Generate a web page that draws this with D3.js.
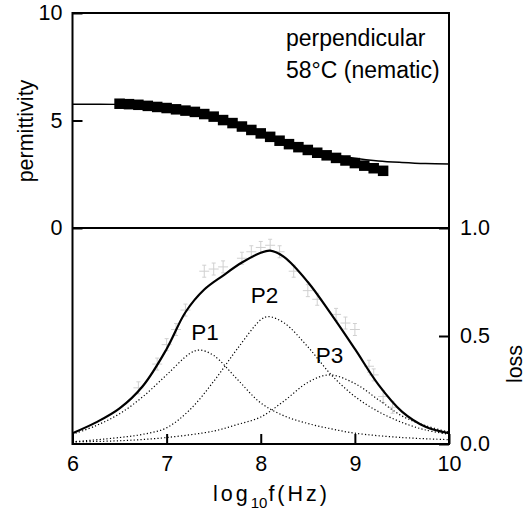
<!DOCTYPE html>
<html>
<head>
<meta charset="utf-8">
<script src="https://cdn.jsdelivr.net/npm/d3@7"></script>
<style>
  body { margin: 0; background: #fff; }
  text { font-family: "Liberation Sans", Arial, sans-serif; fill: #000; }
</style>
</head>
<body>
<div id="chart"></div>
<script>
// permittivity data (squares) and fit
const permX = [6.5, 6.6, 6.7, 6.8, 6.9, 7.0, 7.1, 7.2, 7.3, 7.4, 7.5, 7.6, 7.7, 7.8, 7.9,
               8.0, 8.1, 8.2, 8.3, 8.4, 8.5, 8.6, 8.7, 8.8, 8.9, 9.0, 9.1, 9.2, 9.3];
const permY = [5.78, 5.76, 5.73, 5.68, 5.63, 5.58, 5.52, 5.46, 5.40, 5.30, 5.18, 5.02, 4.88, 4.72, 4.56,
               4.40, 4.24, 4.06, 3.90, 3.76, 3.63, 3.50, 3.38, 3.26, 3.14, 3.02, 2.90, 2.78, 2.66];
const permFitX = [6.0, 6.25, 6.5, 6.75, 7.0, 7.25, 7.5, 7.75, 8.0, 8.25, 8.5, 8.75, 9.0, 9.25, 9.5, 9.75, 10.0];
const permFitY = [5.76, 5.76, 5.75, 5.71, 5.63, 5.48, 5.26, 4.88, 4.45, 4.02, 3.68, 3.42, 3.24, 3.12, 3.05, 3.00, 2.98];

// loss: total fit and components
const fitX = [6.0, 6.25, 6.5, 6.75, 7.0, 7.2, 7.4, 7.6, 7.8, 8.0, 8.1, 8.25, 8.5, 8.75, 9.0, 9.25, 9.5, 9.75, 10.0];
const fitY = [0.05, 0.10, 0.165, 0.27, 0.44, 0.61, 0.715, 0.78, 0.84, 0.885, 0.895, 0.865, 0.75, 0.60, 0.44, 0.275, 0.15, 0.08, 0.05];

const p1X = [6.0, 6.25, 6.5, 6.75, 7.0, 7.25, 7.35, 7.5, 7.75, 8.0, 8.25, 8.5, 8.75, 9.0, 9.5, 10.0];
const p1Y = [0.045, 0.085, 0.14, 0.22, 0.32, 0.42, 0.435, 0.41, 0.30, 0.19, 0.13, 0.095, 0.07, 0.05, 0.03, 0.02];

const p2X = [6.0, 6.5, 6.75, 7.0, 7.25, 7.5, 7.75, 8.0, 8.08, 8.25, 8.5, 8.75, 9.0, 9.25, 9.5, 9.75, 10.0];
const p2Y = [0.01, 0.03, 0.045, 0.075, 0.16, 0.29, 0.44, 0.575, 0.59, 0.56, 0.45, 0.32, 0.22, 0.15, 0.10, 0.065, 0.045];

const p3X = [6.0, 6.5, 7.0, 7.5, 7.75, 8.0, 8.25, 8.5, 8.73, 9.0, 9.25, 9.5, 9.75, 10.0];
const p3Y = [0.01, 0.015, 0.03, 0.06, 0.09, 0.125, 0.20, 0.285, 0.32, 0.28, 0.205, 0.13, 0.085, 0.055];

// faint measured loss points
const lossX = [6.7, 6.9, 7.0, 7.1, 7.2, 7.4, 7.5, 7.6, 7.8, 7.9, 8.0, 8.1, 8.2, 8.35, 8.5, 8.6, 8.8, 8.9, 9.0, 9.15, 9.2, 9.3, 9.4];
const lossY = [0.26, 0.37, 0.46, 0.53, 0.62, 0.80, 0.81, 0.82, 0.86, 0.89, 0.91, 0.92, 0.89, 0.80, 0.71, 0.67, 0.60, 0.56, 0.53, 0.36, 0.32, 0.22, 0.17];

const xTicks = [6, 7, 8, 9, 10];
const permTicks = [0, 5, 10];
const lossTicks = [0, 0.5, 1.0];

const W = 526, H = 512;
const mLeft = 72.5, mRight = 449, mTop = 13, mMid = 228, mBottom = 444;

const svg = d3.select("#chart").append("svg")
    .attr("width", W).attr("height", H);

const x = d3.scaleLinear().domain([6, 10]).range([mLeft, mRight]);
const yP = d3.scaleLinear().domain([0, 10]).range([mMid, mTop]);
const yL = d3.scaleLinear().domain([0, 1]).range([mBottom, mMid]);

const zip = (a, b) => a.map((v, i) => [v, b[i]]);

// clip to plot areas
const defs = svg.append("defs");
defs.append("clipPath").attr("id", "clipTop").append("rect")
    .attr("x", mLeft).attr("y", mTop).attr("width", mRight - mLeft).attr("height", mMid - mTop);
defs.append("clipPath").attr("id", "clipBot").append("rect")
    .attr("x", mLeft).attr("y", mMid).attr("width", mRight - mLeft).attr("height", mBottom - mMid);

// top panel
const gTop = svg.append("g").attr("clip-path", "url(#clipTop)");
const lineP = d3.line().x(d => x(d[0])).y(d => yP(d[1])).curve(d3.curveCatmullRom.alpha(0.5));
gTop.append("path")
    .attr("d", lineP(zip(permFitX, permFitY)))
    .attr("fill", "none").attr("stroke", "#000").attr("stroke-width", 1.5);
const sq = 10.5;
gTop.selectAll("rect.sq")
    .data(zip(permX, permY))
    .join("rect")
    .attr("class", "sq")
    .attr("x", d => x(d[0]) - sq / 2)
    .attr("y", d => yP(d[1]) - sq / 2)
    .attr("width", sq).attr("height", sq)
    .attr("fill", "#000");

// bottom panel
const gBot = svg.append("g").attr("clip-path", "url(#clipBot)");
const lineL = d3.line().x(d => x(d[0])).y(d => yL(d[1])).curve(d3.curveCatmullRom.alpha(0.5));

// faint data crosses
const pts = gBot.selectAll("g.pt")
    .data(zip(lossX, lossY))
    .join("g")
    .attr("class", "pt")
    .attr("transform", d => `translate(${x(d[0])},${yL(d[1])})`)
    .attr("stroke", "#d0d0d0").attr("stroke-width", 1);
pts.append("line").attr("x1", -5).attr("x2", 5).attr("y1", 0).attr("y2", 0);
pts.append("line").attr("x1", 0).attr("x2", 0).attr("y1", -6).attr("y2", 6);
pts.append("line").attr("x1", -2).attr("x2", 2).attr("y1", -6).attr("y2", -6);
pts.append("line").attr("x1", -2).attr("x2", 2).attr("y1", 6).attr("y2", 6);

[[p1X, p1Y], [p2X, p2Y], [p3X, p3Y]].forEach(([a, b]) => {
    gBot.append("path")
        .attr("d", lineL(zip(a, b)))
        .attr("fill", "none").attr("stroke", "#000")
        .attr("stroke-width", 1.2).attr("stroke-dasharray", "1.2,2.2");
});
gBot.append("path")
    .attr("d", lineL(zip(fitX, fitY)))
    .attr("fill", "none").attr("stroke", "#000").attr("stroke-width", 2.2);

// frame
const frame = svg.append("g").attr("stroke", "#000").attr("stroke-width", 2).attr("fill", "none");
frame.append("rect").attr("x", mLeft).attr("y", mTop).attr("width", mRight - mLeft).attr("height", mBottom - mTop);
frame.append("line").attr("x1", mLeft).attr("x2", mRight).attr("y1", mMid).attr("y2", mMid);

// axes
const fs = "21.5px";
const axTop = svg.append("g").attr("transform", `translate(${mLeft},0)`)
    .call(d3.axisLeft(yP).tickValues(permTicks).tickSize(-10).tickPadding(20).tickFormat(d3.format("d")));
const axRight = svg.append("g").attr("transform", `translate(${mRight},0)`)
    .call(d3.axisRight(yL).tickValues(lossTicks).tickSize(-10).tickPadding(20).tickFormat(d3.format(".1f")));
const axBot = svg.append("g").attr("transform", `translate(0,${mBottom})`)
    .call(d3.axisBottom(x).tickValues(xTicks).tickSize(-10).tickPadding(20).tickFormat(d3.format("d")));
[axTop, axRight, axBot].forEach(a => {
    a.select(".domain").remove();
    a.selectAll(".tick line").attr("stroke", "#000").attr("stroke-width", 2);
    a.selectAll(".tick text").attr("font-size", fs)
        .style("font-family", "'Liberation Sans', Arial, sans-serif").attr("fill", "#000");
});
axTop.selectAll(".tick text").attr("x", -10);
axRight.selectAll(".tick text").attr("x", 11);
axBot.selectAll(".tick text").attr("y", 12);

// axis titles
svg.append("text")
    .attr("transform", "translate(33,131) rotate(-90)")
    .attr("text-anchor", "middle").attr("font-size", "21.5px")
    .text("permittivity");
svg.append("text")
    .attr("transform", "translate(522,364) rotate(-90)")
    .attr("text-anchor", "middle").attr("font-size", "21.5px")
    .text("loss");

const xt = svg.append("text")
    .attr("x", 213).attr("y", 501)
    .attr("font-size", "21.5px").attr("letter-spacing", "3px");
xt.append("tspan").text("log");
xt.append("tspan").attr("font-size", "15px").attr("dy", 7).attr("letter-spacing", "0px").text("10");
xt.append("tspan").attr("dy", -7).attr("dx", 1).text("f(Hz)");

// annotation
svg.append("text").attr("x", 286).attr("y", 46).attr("font-size", "23px").text("perpendicular");
svg.append("text").attr("x", 286).attr("y", 78).attr("font-size", "23px").text("58°C (nematic)");

// peak labels
const peakLabels = [["P1", 205, 340], ["P2", 264.5, 303], ["P3", 329.5, 363]];
svg.selectAll("text.pk")
    .data(peakLabels)
    .join("text")
    .attr("class", "pk")
    .attr("x", d => d[1]).attr("y", d => d[2])
    .attr("text-anchor", "middle").attr("font-size", "22.5px")
    .text(d => d[0]);
</script>
</body>
</html>
